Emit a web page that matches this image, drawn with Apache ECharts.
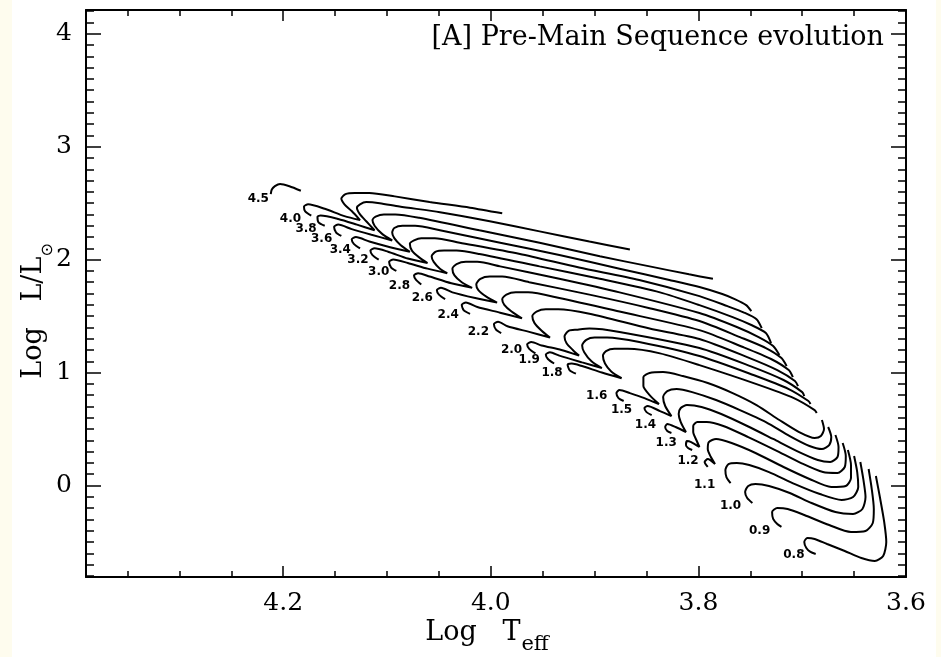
<!DOCTYPE html>
<html><head><meta charset="utf-8">
<script src="https://cdn.jsdelivr.net/npm/echarts@6/dist/echarts.min.js"></script>
<style>
html,body{margin:0;padding:0;width:941px;height:657px;overflow:hidden;
background:linear-gradient(to right,#FEFCEE 0,#FEFCEE 12px,#ffffff 12px,#ffffff 936px,#FEFCEE 936px);}
#c{width:941px;height:657px;}
</style></head>
<body><div id="c"></div>
<script>
// ---- data (log Teff, log L/Lsun) ----
const masses = ['4.5','4.0','3.8','3.6','3.4','3.2','3.0','2.8','2.6','2.4','2.2','2.0','1.9','1.8','1.6','1.5','1.4','1.3','1.2','1.1','1.0','0.9','0.8'];
const labelPos = [[4.224,2.54],[4.193,2.36],[4.178,2.27],[4.163,2.18],[4.145,2.09],[4.128,2.00],[4.108,1.89],[4.088,1.77],[4.066,1.66],[4.041,1.51],[4.012,1.36],[3.980,1.20],[3.963,1.11],[3.941,1.00],[3.898,0.79],[3.874,0.67],[3.851,0.54],[3.831,0.38],[3.810,0.22],[3.794,0.01],[3.769,-0.18],[3.741,-0.40],[3.708,-0.61]];

const t45 = [[4.183,2.61],[4.194,2.65],[4.203,2.67],[4.208,2.65],[4.211,2.62],[4.212,2.58]];
const t40 = [[3.989,2.41],[4.020,2.46],[4.059,2.51],[4.0925,2.56],[4.117,2.59],[4.131,2.59],[4.140,2.58],[4.144,2.54],[4.141,2.49],[4.134,2.43],[4.126,2.35],[4.141,2.385],[4.160,2.45],[4.176,2.49],[4.180,2.47],[4.179,2.43],[4.173,2.39]];
const t38 = [[3.866,2.09],[3.905,2.16],[3.953,2.25],[4.001,2.34],[4.049,2.42],[4.088,2.47],[4.107,2.50],[4.120,2.51],[4.126,2.49],[4.129,2.46],[4.126,2.40],[4.120,2.34],[4.112,2.26],[4.129,2.31],[4.147,2.36],[4.164,2.39],[4.167,2.38],[4.166,2.33],[4.160,2.30]];
const t36 = [[3.786,1.83],[3.809,1.87],[3.847,1.94],[3.895,2.03],[3.953,2.15],[4.011,2.26],[4.069,2.37],[4.092,2.40],[4.103,2.40],[4.111,2.38],[4.114,2.35],[4.112,2.30],[4.105,2.23],[4.095,2.17],[4.115,2.22],[4.134,2.27],[4.147,2.31],[4.151,2.29],[4.149,2.24],[4.144,2.21]];
const t34 = [[3.749,1.544],[3.754,1.597],[3.765,1.650],[3.777,1.695],[3.799,1.757],[3.828,1.82],[3.876,1.92],[3.934,2.04],[3.991,2.15],[4.049,2.26],[4.073,2.30],[4.085,2.30],[4.093,2.28],[4.095,2.24],[4.093,2.19],[4.087,2.13],[4.078,2.07],[4.097,2.11],[4.117,2.16],[4.130,2.20],[4.134,2.18],[4.132,2.14],[4.126,2.10]];
const t32 = [[3.739,1.394],[3.744,1.473],[3.756,1.531],[3.772,1.588],[3.799,1.677],[3.857,1.82],[3.915,1.93],[3.972,2.05],[4.030,2.15],[4.054,2.19],[4.067,2.19],[4.074,2.17],[4.078,2.14],[4.076,2.08],[4.069,2.02],[4.061,1.97],[4.080,2.01],[4.099,2.07],[4.112,2.10],[4.116,2.08],[4.114,2.04],[4.108,2.00]];
const t30 = [[3.730,1.261],[3.735,1.350],[3.749,1.421],[3.767,1.491],[3.799,1.597],[3.837,1.71],[3.895,1.83],[3.953,1.94],[4.011,2.05],[4.033,2.08],[4.045,2.08],[4.053,2.07],[4.057,2.03],[4.055,1.98],[4.049,1.92],[4.042,1.88],[4.061,1.92],[4.080,1.97],[4.094,2.00],[4.098,1.98],[4.096,1.93],[4.091,1.90]];
const t28 = [[3.722,1.155],[3.728,1.235],[3.742,1.314],[3.763,1.403],[3.799,1.527],[3.876,1.71],[3.934,1.83],[3.991,1.94],[4.013,1.98],[4.024,1.98],[4.033,1.96],[4.037,1.92],[4.035,1.86],[4.028,1.80],[4.018,1.75],[4.038,1.79],[4.059,1.85],[4.070,1.88],[4.074,1.86],[4.072,1.82],[4.067,1.78]];
const t26 = [[3.715,1.057],[3.720,1.128],[3.735,1.217],[3.760,1.314],[3.799,1.456],[3.847,1.57],[3.905,1.69],[3.963,1.80],[3.989,1.85],[4.001,1.85],[4.010,1.83],[4.014,1.78],[4.012,1.73],[4.004,1.67],[3.994,1.62],[4.015,1.66],[4.037,1.71],[4.048,1.75],[4.052,1.73],[4.050,1.69],[4.044,1.65]];
const t24 = [[3.709,0.960],[3.713,1.022],[3.730,1.120],[3.757,1.226],[3.799,1.376],[3.876,1.54],[3.934,1.66],[3.964,1.71],[3.976,1.71],[3.985,1.69],[3.989,1.65],[3.987,1.60],[3.980,1.54],[3.970,1.48],[3.991,1.53],[4.013,1.58],[4.024,1.62],[4.028,1.60],[4.026,1.55],[4.020,1.52]];
const t22 = [[3.704,0.880],[3.707,0.925],[3.724,1.022],[3.753,1.137],[3.799,1.297],[3.847,1.39],[3.905,1.52],[3.935,1.56],[3.947,1.56],[3.956,1.54],[3.960,1.50],[3.958,1.44],[3.951,1.37],[3.943,1.31],[3.963,1.36],[3.984,1.41],[3.993,1.45],[3.997,1.43],[3.995,1.38],[3.990,1.35]];
const t20 = [[3.698,0.792],[3.700,0.827],[3.718,0.934],[3.750,1.057],[3.799,1.217],[3.876,1.36],[3.905,1.39],[3.917,1.38],[3.925,1.37],[3.929,1.32],[3.927,1.26],[3.921,1.20],[3.915,1.15],[3.932,1.20],[3.951,1.24],[3.961,1.27],[3.965,1.25],[3.963,1.21],[3.957,1.17]];
const t19 = [[3.692,0.721],[3.694,0.748],[3.713,0.854],[3.747,0.978],[3.799,1.146],[3.857,1.27],[3.888,1.31],[3.900,1.31],[3.908,1.29],[3.912,1.24],[3.910,1.18],[3.903,1.10],[3.893,1.04],[3.912,1.09],[3.934,1.15],[3.943,1.18],[3.947,1.16],[3.945,1.12],[3.939,1.08]];
const t18 = [[3.686,0.642],[3.688,0.668],[3.708,0.774],[3.744,0.898],[3.799,1.066],[3.837,1.17],[3.868,1.21],[3.881,1.21],[3.889,1.19],[3.892,1.15],[3.890,1.08],[3.884,1.01],[3.874,0.95],[3.893,1.00],[3.913,1.06],[3.922,1.08],[3.926,1.07],[3.924,1.02],[3.918,0.99]];
const t16 = [[3.681,0.580],[3.679,0.500],[3.682,0.438],[3.688,0.420],[3.703,0.473],[3.722,0.580],[3.744,0.712],[3.767,0.818],[3.791,0.907],[3.815,0.969],[3.834,1.004],[3.847,0.996],[3.853,0.960],[3.853,0.880],[3.847,0.801],[3.838,0.721],[3.852,0.774],[3.866,0.818],[3.876,0.845],[3.879,0.818],[3.877,0.774],[3.872,0.748]];
const t15 = [[3.675,0.518],[3.672,0.429],[3.674,0.358],[3.681,0.323],[3.693,0.350],[3.712,0.438],[3.735,0.562],[3.760,0.668],[3.783,0.757],[3.806,0.827],[3.821,0.854],[3.830,0.836],[3.834,0.783],[3.832,0.704],[3.826,0.615],[3.837,0.659],[3.849,0.704],[3.852,0.686],[3.850,0.650],[3.845,0.624]];
const t14 = [[3.668,0.447],[3.665,0.341],[3.666,0.252],[3.673,0.208],[3.685,0.226],[3.705,0.305],[3.728,0.412],[3.753,0.527],[3.778,0.633],[3.797,0.695],[3.811,0.712],[3.817,0.686],[3.819,0.633],[3.817,0.562],[3.812,0.473],[3.822,0.518],[3.830,0.544],[3.832,0.518],[3.830,0.482],[3.826,0.465]];
const t13 = [[3.661,0.376],[3.658,0.261],[3.659,0.164],[3.666,0.111],[3.680,0.119],[3.701,0.199],[3.726,0.314],[3.752,0.429],[3.776,0.527],[3.792,0.562],[3.801,0.562],[3.805,0.527],[3.805,0.473],[3.802,0.403],[3.799,0.341],[3.807,0.385],[3.811,0.394],[3.812,0.358],[3.810,0.332],[3.806,0.314]];
const t12 = [[3.656,0.314],[3.653,0.181],[3.653,0.066],[3.658,-0.004],[3.672,-0.013],[3.693,0.058],[3.718,0.164],[3.745,0.288],[3.768,0.376],[3.783,0.412],[3.790,0.385],[3.791,0.323],[3.788,0.252],[3.784,0.190],[3.791,0.234],[3.794,0.208],[3.791,0.164]];
const t11 = [[3.650,0.261],[3.647,0.119],[3.646,-0.013],[3.651,-0.102],[3.662,-0.128],[3.683,-0.075],[3.707,0.013],[3.732,0.119],[3.751,0.181],[3.763,0.199],[3.771,0.190],[3.774,0.137],[3.773,0.075],[3.769,0.022]];
const t10 = [[3.644,0.208],[3.641,0.049],[3.639,-0.102],[3.642,-0.208],[3.651,-0.252],[3.668,-0.235],[3.691,-0.155],[3.712,-0.066],[3.732,-0.004],[3.745,0.013],[3.752,-0.004],[3.755,-0.058],[3.753,-0.111],[3.748,-0.155]];
const t09 = [[3.636,0.146],[3.633,-0.031],[3.631,-0.208],[3.632,-0.332],[3.639,-0.403],[3.653,-0.412],[3.674,-0.350],[3.698,-0.261],[3.714,-0.208],[3.724,-0.199],[3.729,-0.235],[3.728,-0.296],[3.724,-0.341],[3.720,-0.367]];
const t08 = [[3.629,0.084],[3.625,-0.111],[3.621,-0.323],[3.619,-0.500],[3.622,-0.624],[3.630,-0.668],[3.643,-0.642],[3.659,-0.580],[3.676,-0.518],[3.688,-0.473],[3.695,-0.464],[3.698,-0.500],[3.696,-0.553],[3.692,-0.588],[3.687,-0.606]];

const tracks = [t45,t40,t38,t36,t34,t32,t30,t28,t26,t24,t22,t20,t19,t18,t16,t15,t14,t13,t12,t11,t10,t09,t08];

const xMajor = [3.6, 3.8, 4.0, 4.2];
const yMajor = [0, 1, 2, 3, 4];
const titleText = '[A] Pre-Main Sequence evolution';

// ---- chart ----
const xMinor = []; for (let i = 0; i <= 15; i++) xMinor.push(+(3.6 + i*0.05).toFixed(2));
const yMinor = []; for (let i = 0; i <= 50; i++) yMinor.push(+(-0.8 + i*0.1).toFixed(1));

const SERIF = '"DejaVu Serif", serif';
const XR = {type:'value', min:3.6, max:4.39, inverse:true, splitLine:{show:false}};
const YR = {type:'value', min:-0.81, max:4.21, splitLine:{show:false}};
const frame = {color:'#000', width:2};

function ax(base, pos, ticks, len, showLine, labels) {
  return Object.assign({}, base, {
    position: pos,
    axisLine: {show: showLine, onZero:false, lineStyle: frame},
    axisTick: {show:true, inside:true, length: len, customValues: ticks, lineStyle:{color:'#000', width:1.5}},
    axisLabel: labels ? {show:true, customValues: ticks, margin: 14, color:'#000', fontFamily: SERIF, fontSize: 25,
      formatter: v => (base === XR ? v.toFixed(1) : String(Math.round(v)))} : {show:false},
    minorTick:{show:false}
  });
}

const chart = echarts.init(document.getElementById('c'), null, {renderer:'canvas'});
const series = tracks.map((d, i) => ({
  type:'line', name: masses[i], data: d, xAxisIndex:0, yAxisIndex:0,
  showSymbol:false, symbol:'none', smooth:0.25, clip:false,
  lineStyle:{color:'#000', width:2}, silent:true
}));
series.push({
  type:'scatter', xAxisIndex:0, yAxisIndex:0, symbolSize:0, silent:true,
  itemStyle:{opacity:1},
  data: labelPos.map((p, i) => ({value:p, name:masses[i]})),
  label:{show:true, position:'inside', formatter: p => p.name, color:'#000', opacity:1,
    textBorderWidth:0, textBorderColor:'transparent',
    fontFamily:'"DejaVu Sans", sans-serif', fontWeight:'bold', fontSize:12}
});

chart.setOption({
  animation:false,
  backgroundColor:'transparent',
  title:{text:titleText, right:52, top:19, textStyle:{fontFamily:SERIF, fontWeight:'normal', fontSize:27, color:'#000'}},
  grid:{left:86, right:35, top:10, bottom:80, containLabel:false},
  xAxis:[
    ax(XR,'bottom',xMajor,11,true,true),
    ax(XR,'bottom',xMinor,6,false,false),
    ax(XR,'top',xMajor,11,true,false),
    ax(XR,'top',xMinor,6,false,false)
  ],
  yAxis:[
    ax(YR,'left',yMajor,15,true,true),
    ax(YR,'left',yMinor,8,false,false),
    ax(YR,'right',yMajor,15,true,false),
    ax(YR,'right',yMinor,8,false,false)
  ],
  graphic:[
    {type:'text', x:487, y:619, style:{
      text:'{a|Log   T}{s|eff}', align:'center', verticalAlign:'top',
      rich:{a:{fontFamily:SERIF, fontSize:27, fill:'#000', lineHeight:36, verticalAlign:'top'},
            s:{fontFamily:SERIF, fontSize:21, fill:'#000', lineHeight:36, verticalAlign:'bottom', padding:[0,0,0,1]}}
    }},
    {type:'text', rotation:Math.PI/2, x:38, y:311, style:{
      text:'{a|Log   L/L}{s|⊙}', align:'center', verticalAlign:'middle',
      rich:{a:{fontFamily:SERIF, fontSize:27, fill:'#000', lineHeight:36, verticalAlign:'top'},
            s:{fontFamily:'"DejaVu Sans"', fontSize:16, fill:'#000', lineHeight:36, verticalAlign:'bottom'}}
    }}
  ],
  series: series
});
</script></body></html>
